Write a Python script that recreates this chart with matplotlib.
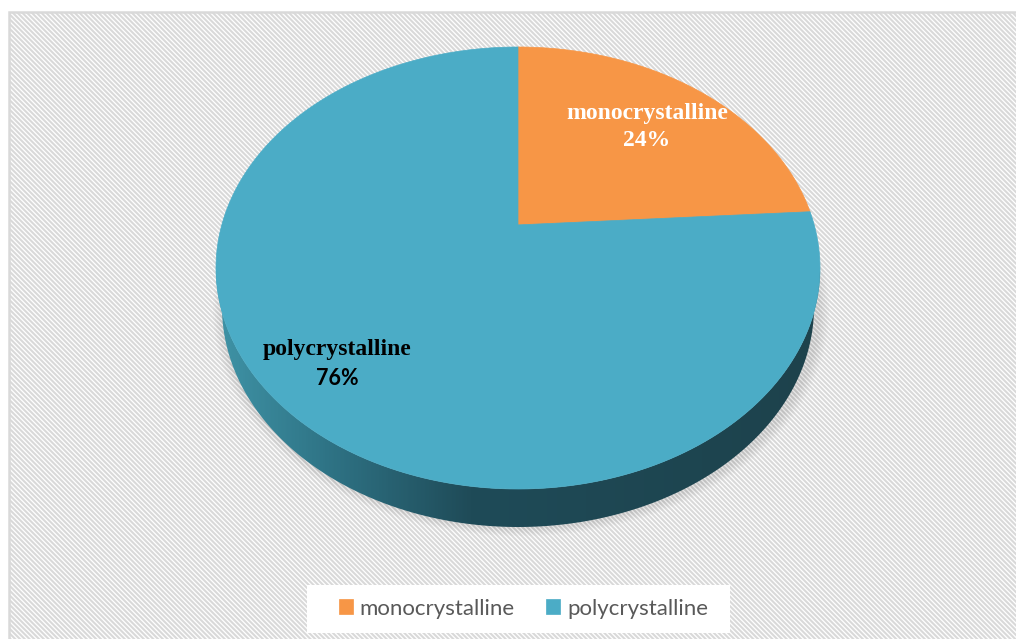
import numpy as np
import matplotlib
matplotlib.use("Agg")
import matplotlib.pyplot as plt
from matplotlib.patches import Polygon, Rectangle
from matplotlib.colors import LinearSegmentedColormap

# Daten
labels = ["monocrystalline", "polycrystalline"]
shares = [24, 76]
colors = ["#F79646", "#4BACC6"]
label_colors = ["white", "black"]
label_radius = [0.70, 0.79]

# Geometrie der 3D-Torte (Pixel)
cx, cy = 518, 268
rx, ry = 302, 221
depth = 39
v = 0.195   # Perspektive: Mittelpunkt nach hinten verschoben

plt.rcParams["hatch.color"] = "#f4f4f4"
plt.rcParams["hatch.linewidth"] = 1.5

fig = plt.figure(figsize=(10.16, 6.39), dpi=100)
ax = fig.add_axes([0, 0, 1, 1])
ax.set_xlim(0, 1016)
ax.set_ylim(639, 0)
ax.axis("off")

# Hintergrund mit Schraffur und Rahmen
ax.add_patch(Rectangle((9, 12), 1020, 640, facecolor="white", edgecolor="#d9d9d9",
                       lw=1.8, hatch="\\" * 7, zorder=0))


def warp(x, y):
    # Kreis -> perspektivisch verzerrter Kreis (bleibt Einheitskreis)
    den = 1 + v * y
    return x * np.sqrt(1 - v ** 2) / den, (y + v) / den


def to_px(x, y):
    return cx + rx * x, cy - ry * y


# Schatten
for k in range(6):
    t = np.linspace(0, 2 * np.pi, 300)
    grow = 1 + k * 1.8
    sx = cx + 3 + (rx - 4 + grow) * np.cos(t)
    sy = cy + depth + 3 + (ry - 3 + grow * 0.8) * np.sin(t)
    ax.fill(sx, sy, color="#000000", alpha=0.015, lw=0, zorder=1)

# Seitenwand mit Farbverlauf
t = np.linspace(np.pi, 2 * np.pi, 300)
top_x = cx + rx * np.cos(t)
top_y = cy - ry * np.sin(t)
bot_x = cx + (rx - 6) * np.cos(t)
bot_y = cy + depth - (ry - 1) * np.sin(t)
side_pts = np.vstack([np.column_stack([top_x, top_y]),
                      np.column_stack([bot_x[::-1], bot_y[::-1]])])
side = Polygon(side_pts, closed=True, facecolor="none", edgecolor="none", zorder=2)
ax.add_patch(side)
side_cmap = LinearSegmentedColormap.from_list(
    "side", [(0.0, "#3f93a6"), (0.18, "#2f7486"), (0.42, "#1f4b58"), (1.0, "#1d424c")])
grad = np.linspace(0, 1, 400).reshape(1, -1)
im = ax.imshow(grad, cmap=side_cmap, aspect="auto",
               extent=[cx - rx, cx + rx, cy + ry + depth + 2, cy - 5], zorder=2)
im.set_clip_path(side)

# Oberseite: Tortenstuecke
start = 90.0
handles = []
for lab, val, col, lc, lr in zip(labels, shares, colors, label_colors, label_radius):
    sweep = 360.0 * val / sum(shares)
    th = np.radians(np.linspace(start, start - sweep, 200))
    ux = np.concatenate([[0], np.cos(th)])
    uy = np.concatenate([[0], np.sin(th)])
    wx, wy = warp(ux, uy)
    px, py = to_px(wx, wy)
    p = Polygon(np.column_stack([px, py]), closed=True, facecolor=col,
                edgecolor=col, lw=0.5, zorder=3, label=lab)
    ax.add_patch(p)
    handles.append(p)

    mid = np.radians(start - sweep / 2)
    lx, ly = to_px(*warp(lr * np.cos(mid), lr * np.sin(mid)))
    ax.text(lx, ly - 13, lab, ha="center", va="center", color=lc,
            fontsize=17, fontweight="bold", family="Liberation Serif", zorder=4)
    if lc == "white":
        ax.text(lx, ly + 14, f"{val}%", ha="center", va="center", color=lc,
                fontsize=17, fontweight="bold", family="Liberation Serif", zorder=4)
    else:
        ax.text(lx, ly + 16, f"{val}%", ha="center", va="center", color=lc,
                fontsize=15.5, fontweight="bold", family="Lato", zorder=4)
    start -= sweep

# Legende (weisser Kasten dahinter)
ax.add_patch(Rectangle((307, 585), 423, 48, facecolor="white", edgecolor="none", zorder=5))
leg = ax.legend(handles=handles, loc="lower center", bbox_to_anchor=(0.515, 0.004),
                ncol=2, frameon=False,
                prop={"family": "Lato", "size": 16}, labelcolor="#595959",
                handlelength=0.65, handleheight=0.65, handletextpad=0.3,
                columnspacing=1.4, borderpad=0.5, borderaxespad=0.3)
leg.set_zorder(6)

fig.savefig("out.png", dpi=100)
